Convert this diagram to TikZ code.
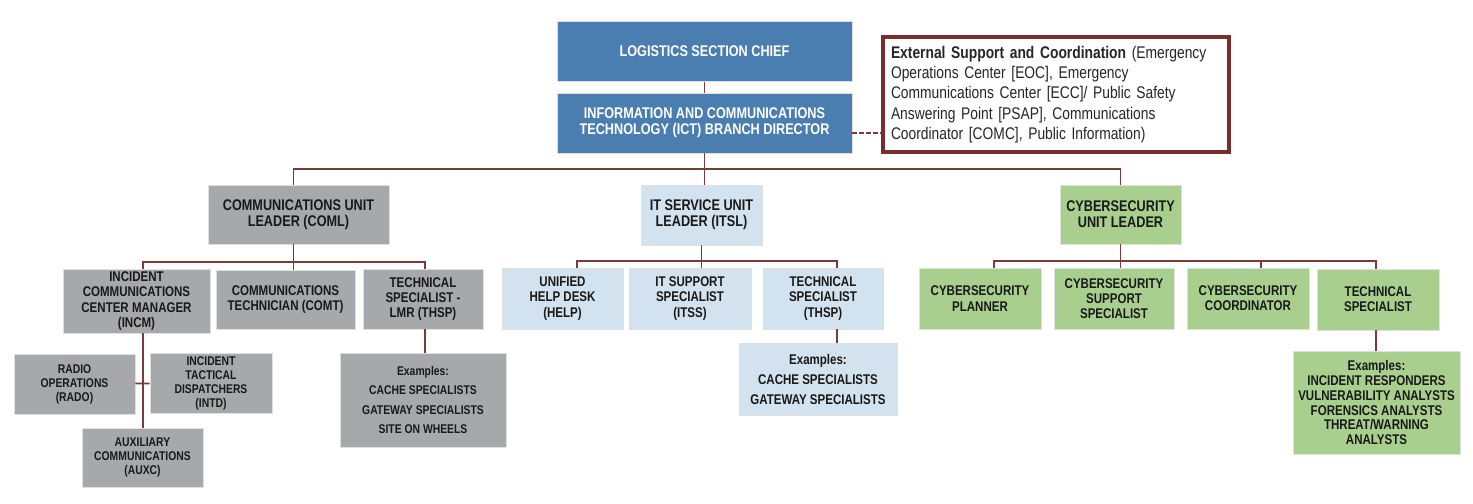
\documentclass[tikz,border=0pt]{standalone}
\usepackage{fontspec}
\setmainfont{Liberation Sans}[FakeStretch=0.82]
\usepackage{tikz}
\usetikzlibrary{shapes,arrows}
\definecolor{ictblue}{RGB}{74,126,176}
\definecolor{unitgray}{RGB}{166,168,171}
\definecolor{itblue}{RGB}{210,227,239}
\definecolor{cybgreen}{RGB}{169,207,142}
\definecolor{linered}{RGB}{125,58,58}
\definecolor{extred}{RGB}{123,44,44}
\newcommand{\szlead}{\fontsize{8.8}{9}\selectfont\bfseries}
\newcommand{\szrole}{\fontsize{8}{8.7}\selectfont\bfseries}
\newcommand{\szsmall}{\fontsize{7.2}{8}\selectfont\bfseries}
\tikzstyle{blockBL} = [rectangle, draw=black!12, fill=ictblue, text=white, align=center, inner sep=1pt, font=\szlead, minimum width=5.9cm, minimum height=1.19cm]
\tikzstyle{blockGY} = [rectangle, draw=black!12, fill=unitgray, text=black!90, align=center, inner sep=1pt, font=\szrole, minimum width=2.42cm, minimum height=1.2cm]
\tikzstyle{blockLB} = [rectangle, draw=black!12, fill=itblue, text=black!90, align=center, inner sep=1pt, font=\szrole, minimum width=2.42cm, minimum height=1.22cm]
\tikzstyle{blockGN} = [rectangle, draw=black!12, fill=cybgreen, text=black!90, align=center, inner sep=1pt, font=\szrole, minimum width=2.42cm, minimum height=1.22cm]
\tikzstyle{blockEX} = [rectangle, draw=extred, line width=2pt, fill=white, text=black!85, align=left, text width=6.6cm, inner xsep=0.16cm, minimum height=2.3cm, font=\fontsize{9.6}{11.5}\selectfont]
\tikzstyle{line} = [draw, linered, line width=1pt]
\tikzstyle{dashline} = [draw, linered, line width=1pt, dash pattern=on 2.5pt off 1.5pt]

\begin{document}
\begin{tikzpicture}[node distance = 2cm, auto]
    \useasboundingbox (0,0) rectangle (29.46,-10.06);

    % nodes
    \node [blockBL] at (14.09,-1.03) (lsc) {LOGISTICS SECTION CHIEF};
    \node [blockBL, below of = lsc, node distance = 1.43cm, minimum height=1.2cm] (ict) {INFORMATION AND COMMUNICATIONS\\TECHNOLOGY (ICT) BRANCH DIRECTOR};
    \node [blockEX, right of = ict, node distance = 7.03cm, yshift=0.57cm] (ext) {\textbf{External Support and Coordination} (Emergency\\Operations Center [EOC], Emergency\\Communications Center [ECC]/ Public Safety\\Answering Point [PSAP], Communications\\Coordinator [COMC], Public Information)};

    % unit leaders
    \node [blockGY, below of = ict, node distance = 1.83cm, xshift=-8.12cm, minimum width=3.62cm, minimum height=1.18cm, font=\szlead] (coml) {COMMUNICATIONS UNIT\\LEADER (COML)};
    \node [blockLB, below of = ict, node distance = 1.84cm, xshift=-0.06cm, minimum height=1.2cm, font=\szlead] (itsl) {IT SERVICE UNIT\\LEADER (ITSL)};
    \node [blockGN, below of = ict, node distance = 1.83cm, xshift=8.32cm, minimum height=1.18cm, font=\szlead] (cyl) {CYBERSECURITY\\UNIT LEADER};

    % communications unit
    \node [blockGY, below of = coml, node distance = 1.73cm, xshift=-3.24cm, minimum width=2.94cm, minimum height=1.28cm] (incm) {INCIDENT\\COMMUNICATIONS\\CENTER MANAGER\\(INCM)};
    \node [blockGY, below of = coml, node distance = 1.70cm, xshift=-0.26cm, minimum width=2.78cm, minimum height=1.18cm] (comt) {COMMUNICATIONS\\TECHNICIAN (COMT)};
    \node [blockGY, below of = coml, node distance = 1.69cm, xshift=2.49cm, minimum width=2.40cm] (lmr) {TECHNICAL\\SPECIALIST -\\LMR (THSP)};
    \node [blockGY, below of = incm, node distance = 1.66cm, xshift=-1.24cm, font=\szsmall] (rado) {RADIO\\OPERATIONS\\(RADO)};
    \node [blockGY, below of = incm, node distance = 1.64cm, xshift=1.49cm, minimum width=2.44cm, font=\szsmall] (intd) {INCIDENT\\TACTICAL\\DISPATCHERS\\(INTD)};
    \node [blockGY, below of = incm, node distance = 3.13cm, xshift=0.12cm, minimum height=1.18cm, font=\szsmall] (auxc) {AUXILIARY\\COMMUNICATIONS\\(AUXC)};
    \node [blockGY, below of = lmr, node distance = 2.02cm, minimum width=3.32cm, minimum height=1.88cm, font=\fontsize{7.2}{10.9}\selectfont\bfseries] (exlmr) {Examples:\\CACHE SPECIALISTS\\GATEWAY SPECIALISTS\\SITE ON WHEELS};

    % it service unit
    \node [blockLB, below of = itsl, node distance = 1.67cm, xshift=-2.78cm] (help) {UNIFIED\\HELP DESK\\(HELP)};
    \node [blockLB, below of = itsl, node distance = 1.67cm, xshift=-0.23cm, minimum width=2.44cm] (itss) {IT SUPPORT\\SPECIALIST\\(ITSS)};
    \node [blockLB, below of = itsl, node distance = 1.67cm, xshift=2.43cm, minimum width=2.40cm] (thsp) {TECHNICAL\\SPECIALIST\\(THSP)};
    \node [blockLB, below of = thsp, node distance = 1.61cm, xshift=-0.10cm, minimum width=3.16cm, minimum height=1.44cm, font=\fontsize{8}{11.4}\selectfont\bfseries] (exit) {Examples:\\CACHE SPECIALISTS\\GATEWAY SPECIALISTS};

    % cybersecurity unit
    \node [blockGN, below of = cyl, node distance = 1.68cm, xshift=-2.81cm, minimum width=2.44cm] (plan) {CYBERSECURITY\\PLANNER};
    \node [blockGN, below of = cyl, node distance = 1.68cm, xshift=-0.13cm, minimum width=2.40cm] (supp) {CYBERSECURITY\\SUPPORT\\SPECIALIST};
    \node [blockGN, below of = cyl, node distance = 1.68cm, xshift=2.55cm, minimum width=2.44cm] (coor) {CYBERSECURITY\\COORDINATOR};
    \node [blockGN, below of = cyl, node distance = 1.70cm, xshift=5.15cm, minimum width=2.44cm] (tech) {TECHNICAL\\SPECIALIST};
    \node [blockGN, below of = tech, node distance = 2.06cm, xshift=-0.03cm, minimum width=3.34cm, minimum height=2.06cm, font=\fontsize{8}{8.5}\selectfont\bfseries] (excy) {Examples:\\INCIDENT RESPONDERS\\VULNERABILITY ANALYSTS\\FORENSICS ANALYSTS\\THREAT/WARNING\\ANALYSTS};

    % bus points
    \coordinate (busT) at ([yshift=-0.32cm]ict.south);
    \coordinate (busC) at ([yshift=-0.36cm]coml.south);
    \coordinate (busI) at ([yshift=-0.32cm]itsl.south);
    \coordinate (busY) at ([yshift=-0.34cm]cyl.south);

    % edges
    \path [line] (lsc) -- (ict);
    \path [dashline] ([yshift=-0.2cm]ict.east) -- ([yshift=-0.2cm]ict.east -| ext.west);
    \path [line] (ict.south) -- (ict.south |- itsl.north);
    \path [line] ([xshift=-0.1cm]coml.north) |- (busT) -| (cyl.north);

    \path [line] ([xshift=0.13cm]incm.north) |- (busC) -| ([xshift=0.04cm]lmr.north);
    \path [line] ([xshift=-0.1cm]coml.south) -- ([xshift=-0.1cm]coml.south |- comt.north);
    \path [line] ([xshift=0.13cm]incm.south) -- ([xshift=0.13cm]incm.south |- auxc.north);
    \path [line] (rado) -- (intd);
    \path [line] ([xshift=0.04cm]lmr.south) -- ([xshift=0.04cm]lmr.south |- exlmr.north);

    \path [line] ([xshift=0.29cm]help.north) |- (busI) -| ([xshift=0.28cm]thsp.north);
    \path [line] (itsl.south) -- (itsl.south |- itss.north);
    \path [line] ([xshift=0.28cm]thsp.south) -- ([xshift=0.28cm]thsp.south |- exit.north);

    \path [line] ([xshift=0.28cm]plan.north) |- (busY) -| ([xshift=-0.04cm]tech.north);
    \path [line] (cyl.south) -- (cyl.south |- supp.north);
    \path [line] ([xshift=0.26cm]coor.north) -- ([xshift=0.26cm]coor.north |- busY);
    \path [line] ([xshift=-0.04cm]tech.south) -- ([xshift=-0.04cm]tech.south |- excy.north);

  \end{tikzpicture}
\end{document}
